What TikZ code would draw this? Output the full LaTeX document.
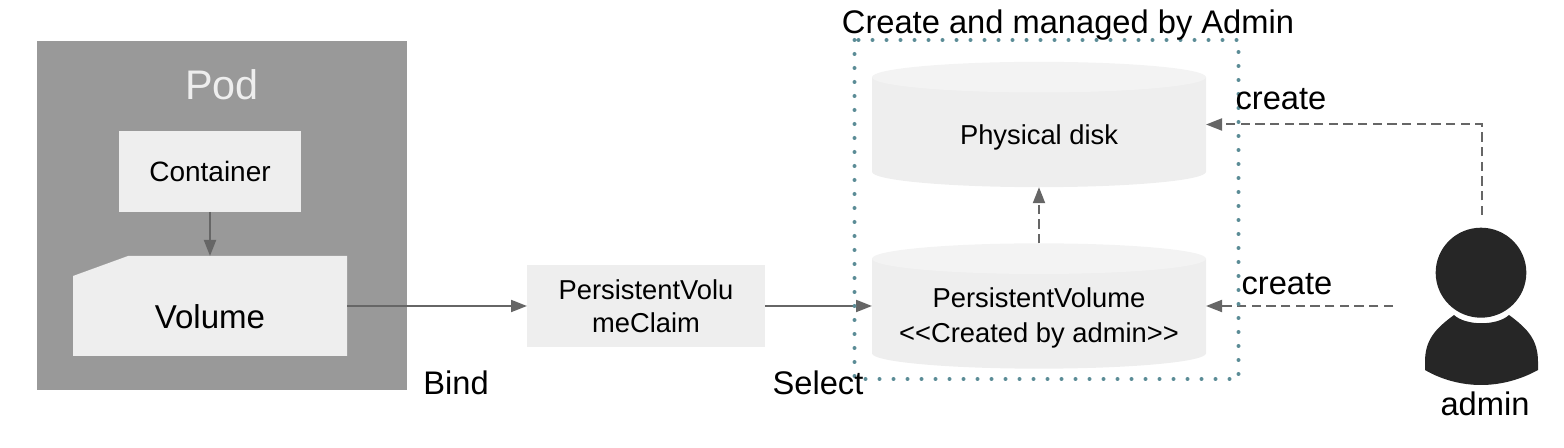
\documentclass[tikz,border=0pt]{standalone}
\usepackage{fontspec}
\setmainfont{Liberation Sans}
\usetikzlibrary{positioning,arrows.meta,shapes.geometric}
\definecolor{podgray}{HTML}{999999}
\definecolor{boxgray}{HTML}{EEEEEE}
\definecolor{lidgray}{HTML}{F3F3F3}
\definecolor{linegray}{HTML}{666666}
\definecolor{dotteal}{HTML}{5B8C96}
\definecolor{usergray}{HTML}{262626}
\newcommand{\lowered}[2]{\raisebox{#1}[0pt][0pt]{\begin{tabular}{@{}c@{}}#2\end{tabular}}}
\tikzset{
  box/.style={rectangle,fill=boxgray,inner sep=0pt,outer sep=0pt,align=center},
  disk/.style={rectangle,inner sep=0pt,outer sep=0pt,minimum width=250.5pt,minimum height=94pt,
    path picture={
      \fill [boxgray] (path picture bounding box.north west) ++(0,-11.5pt) -- ++(250.5pt,0) -- ++(0,-71pt)
        arc [start angle=0,end angle=-180,x radius=125.25pt,y radius=11.5pt] -- cycle ;
      \fill [lidgray] (path picture bounding box.north) ++(0,-11.5pt) ellipse [x radius=125.25pt,y radius=11.5pt] ;
    }},
  flow/.style={draw=linegray,line width=1.5pt,-{Triangle[length=12pt,width=9pt]}},
  dashflow/.style={flow,dash pattern=on 7pt off 4pt},
  tag/.style={inner sep=0pt,font=\fontsize{24.5}{29}\selectfont},
  inbox/.style={font=\fontsize{20.5}{25}\selectfont}
}
\begin{document}
\begin{tikzpicture}[x=0.75pt,y=0.75pt,yscale=-1,xscale=1]
\useasboundingbox (0,0) rectangle (1564,448);

%Shape: Pod
\node (pod) [rectangle,fill=podgray,inner sep=0pt,minimum width=277.5pt,minimum height=262pt] at (222,215.5) {};
\node (podlabel) [inner sep=0pt,text=boxgray,font=\fontsize{31}{35}\selectfont] at (222,85) {Pod};
%Shape: Container
\node (container) [box,minimum width=136pt,minimum height=60.75pt,font=\fontsize{21}{25}\selectfont] at (210,171.5) {Container};
%Shape: Volume
\fill [boxgray] (128,256) -- (347,256) -- (347,356) -- (73,356) -- (73,276) -- cycle ;
\node (volume) [inner sep=0pt,outer sep=0pt,minimum width=205.5pt,minimum height=75pt,font=\fontsize{24.8}{29}\selectfont] at (210,306) {\lowered{-17pt}{Volume}};
%Shape: Claim
\node (claim) [box,inbox,minimum width=178.5pt,minimum height=61.5pt] at (646,306) {PersistentVolu\\meClaim};
%Shape: Can
\node (physical) [disk,inbox] at (1039,124.5) {\lowered{-15.2pt}{Physical disk}};
\node (pv) [disk,font=\fontsize{20.5}{26.3}\selectfont] at (1039,306) {\lowered{-14.2pt}{PersistentVolume\\{<}{<}Created by admin{>}{>}}};
%Shape: admin
\node (head) [ellipse,fill=usergray,inner sep=0pt,minimum width=68pt,minimum height=67.5pt] at (1481,272.7) {};
\fill [usergray] (1454,315) .. controls (1466,326) and (1497,326) .. (1509,315) .. controls (1528,329) and (1538,340) .. (1538,362) -- (1538,370) .. controls (1520,380) and (1500,385) .. (1481,385) .. controls (1462,385) and (1442,380) .. (1425,370) -- (1425,362) .. controls (1425,340) and (1435,329) .. (1454,315) -- cycle ;

\coordinate (admintop) at (1482,215);
\coordinate (adminleft) at (1393,306);

%Straight Lines
\draw [flow] (container) -- (volume);
\draw [flow] (volume) -- (claim);
\draw [flow] (claim) -- (pv);
\draw [dashflow] (pv) -- (physical);
\draw [dashflow] (admintop) |- (physical);
\draw [dashflow] (adminleft) -- (pv);

%Dotted frame
\draw [dotteal,line width=3pt,line cap=round,dash pattern=on 0pt off 10.5pt] (854.5,40) rectangle (1238.5,379);

% Text Node
\node (title) [tag] at (1068,25) {Create and managed by Admin};
\node (bind) [tag] at (456,383) {Bind};
\node (select) [tag] at (818,383) {Select};
\node (createtop) [tag] at (1281,99) {create};
\node (createlow) [tag] at (1287,284) {create};
\node (admin) [tag] at (1485,404) {admin};
\end{tikzpicture}
\end{document}
